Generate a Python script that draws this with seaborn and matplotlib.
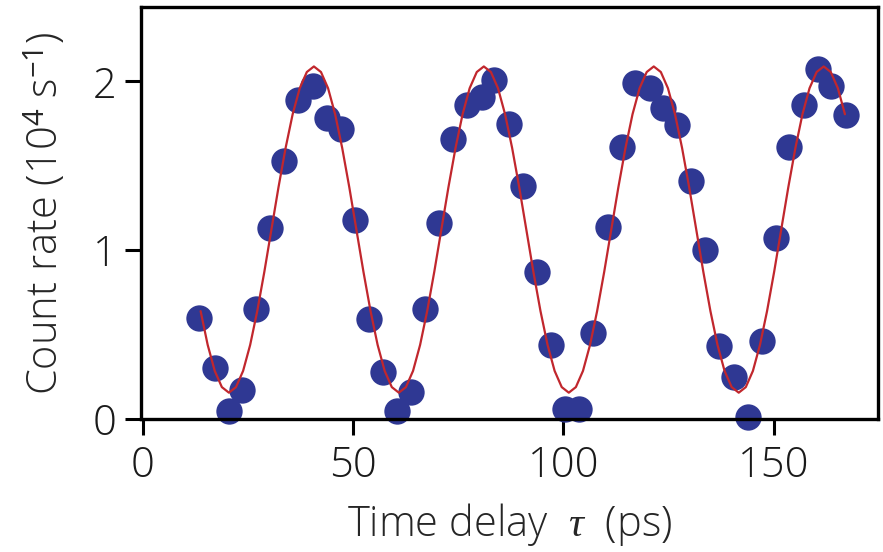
import matplotlib
matplotlib.use("Agg")
import matplotlib.pyplot as plt
import seaborn as sns
import pandas as pd

# measured count rate (10^4 s^-1) vs time delay tau (ps)
tau = [13.5, 17.1, 20.4, 23.6, 27.0, 30.3, 33.7, 36.9, 40.5, 43.7, 47.1, 50.5,
       53.8, 57.1, 60.5, 63.7, 67.1, 70.5, 73.8, 77.0, 80.6, 83.6, 87.1, 90.5,
       93.7, 97.0, 100.4, 103.8, 107.1, 110.6, 113.9, 117.1, 120.5, 123.7, 127.0, 130.4,
       133.7, 137.1, 140.5, 143.8, 147.2, 150.6, 153.7, 157.1, 160.5, 163.7, 167.1]
rate = [0.60, 0.30, 0.05, 0.17, 0.65, 1.13, 1.53, 1.89, 1.97, 1.78, 1.72, 1.18,
        0.59, 0.28, 0.05, 0.16, 0.65, 1.16, 1.66, 1.86, 1.91, 2.01, 1.75, 1.38,
        0.87, 0.44, 0.06, 0.06, 0.51, 1.14, 1.61, 1.99, 1.96, 1.84, 1.74, 1.41,
        1.00, 0.43, 0.25, 0.01, 0.46, 1.07, 1.61, 1.86, 2.07, 1.97, 1.80]

# fitted curve
fit_tau = [13.77, 15.45, 17.13, 18.82, 20.50, 22.18, 23.87, 25.55, 27.23, 28.92,
           30.60, 32.28, 33.97, 35.65, 37.33, 39.02, 40.70, 42.38, 44.07, 45.75,
           47.43, 49.12, 50.80, 52.48, 54.17, 55.85, 57.53, 59.22, 60.90,
           62.58, 64.27, 65.95, 67.63, 69.32, 71.00, 72.68, 74.37, 76.05, 77.73,
           79.42, 81.10, 82.78, 84.47, 86.15, 87.83, 89.52, 91.20, 92.88, 94.57,
           96.25, 97.93, 99.62, 101.30,
           102.98, 104.67, 106.35, 108.03, 109.72, 111.40, 113.08, 114.77, 116.45, 118.13,
           119.82, 121.50, 123.18, 124.87, 126.55, 128.23, 129.92, 131.60, 133.28, 134.97,
           136.65, 138.33, 140.02, 141.70,
           143.38, 145.07, 146.75, 148.43, 150.12, 151.80, 153.48, 155.17, 156.85, 158.53,
           160.22, 161.90, 163.58, 165.27, 166.95]
fit_rate = [0.639, 0.439, 0.285, 0.189,
            0.156, 0.189, 0.285, 0.439, 0.639, 0.872, 1.122, 1.372, 1.605, 1.805, 1.959, 2.055,
            2.088, 2.055, 1.959, 1.805, 1.605, 1.372, 1.122, 0.872, 0.639, 0.439, 0.285, 0.189,
            0.156, 0.189, 0.285, 0.439, 0.639, 0.872, 1.122, 1.372, 1.605, 1.805, 1.959, 2.055,
            2.088, 2.055, 1.959, 1.805, 1.605, 1.372, 1.122, 0.872, 0.639, 0.439, 0.285, 0.189,
            0.156, 0.189, 0.285, 0.439, 0.639, 0.872, 1.122, 1.372, 1.605, 1.805, 1.959, 2.055,
            2.088, 2.055, 1.959, 1.805, 1.605, 1.372, 1.122, 0.872, 0.639, 0.439, 0.285, 0.189,
            0.156, 0.189, 0.285, 0.439, 0.639, 0.872, 1.122, 1.372, 1.605, 1.805, 1.959, 2.055,
            2.088, 2.055, 1.959, 1.805]

xticks = [0, 50, 100, 150]
yticks = [0, 1, 2]

pts = pd.DataFrame({"tau": tau, "rate": rate})
fit = pd.DataFrame({"tau": fit_tau, "rate": fit_rate})

sns.set_theme(style="ticks")
plt.rcParams['font.family'] = ['Open Sans', 'DejaVu Sans']
plt.rcParams['mathtext.fontset'] = 'custom'
plt.rcParams['mathtext.rm'] = 'Open Sans'
plt.rcParams['mathtext.it'] = 'Liberation Serif:italic'
plt.rcParams['text.color'] = '#1a1a1a'

fig = plt.figure(figsize=(8.83, 5.52), dpi=100)
ax = fig.add_axes([0.1597, 0.2409, 0.8346, 0.7464])

sns.scatterplot(data=pts, x="tau", y="rate", ax=ax, s=360, color="#2f3893",
                linewidth=0, clip_on=False, zorder=1)
sns.lineplot(data=fit, x="tau", y="rate", ax=ax, sort=False, estimator=None,
             color="#c1272d", linewidth=1.6, zorder=3)

ax.set_xlim(-0.4, 174.8)
ax.set_ylim(0, 2.44)
ax.set_xticks(xticks)
ax.set_yticks(yticks)
for s in ax.spines.values():
    s.set_linewidth(2.4)
    s.set_color("black")
    s.set_zorder(4)
ax.tick_params(direction="out", length=11.5, width=2.2, labelsize=30,
               color="black", labelcolor="#1a1a1a", pad=6)
ax.tick_params(axis="x", pad=7)
for lab in ax.get_xticklabels() + ax.get_yticklabels():
    lab.set_fontweight("light")

ax.set_xlabel(r"Time delay  $\mathit{\tau}$  (ps)", fontsize=30, fontweight="light",
              labelpad=10)
ax.set_ylabel(r"Count rate (10$^{4}$ s$^{-1}$)", fontsize=30, fontweight="light",
              labelpad=18)

fig.savefig("out.png", dpi=100)
